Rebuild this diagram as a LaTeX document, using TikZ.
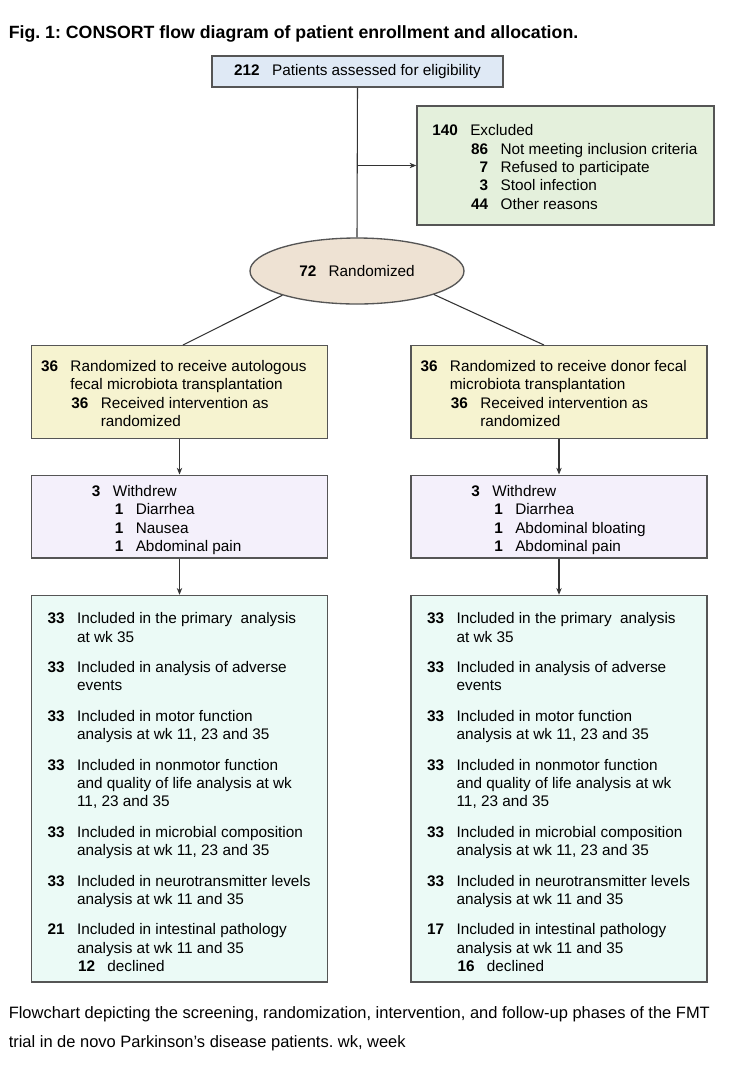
\documentclass[tikz,border=0pt]{standalone}
\usepackage{fontspec}
\setmainfont{Liberation Sans}
\usetikzlibrary{shapes.geometric}
\usetikzlibrary{arrows.meta}
\usetikzlibrary{calc}
\frenchspacing

\definecolor{edgegray}{HTML}{555555}
\definecolor{linkgray}{HTML}{333333}
\definecolor{screenfill}{HTML}{DFE9F5}
\definecolor{exclfill}{HTML}{E4F0DC}
\definecolor{randfill}{HTML}{EEE2D3}
\definecolor{armfill}{HTML}{F6F3D0}
\definecolor{wdfill}{HTML}{F4F0FB}
\definecolor{resfill}{HTML}{EBFAF6}

\newcommand{\diag}{\fontsize{11.5}{13.8}\selectfont}
\newcommand{\nbr}[2][13.5pt]{\makebox[#1][r]{\textbf{#2}}\hspace{9.25pt}}
\newcommand{\indt}[1][22.75pt]{\hspace*{#1}}

\tikzset{
  flowbox/.style={draw=edgegray, line width=1pt, rectangle, inner sep=0pt, minimum width=222pt},
  screenbox/.style={flowbox, fill=screenfill, minimum width=218.25pt, minimum height=23.25pt, font=\diag},
  exclbox/.style={flowbox, fill=exclfill, minimum width=222.75pt, minimum height=89.25pt},
  randnode/.style={ellipse, draw=edgegray, line width=1pt, fill=randfill, inner sep=0pt, minimum width=160.5pt, minimum height=49.5pt, font=\diag},
  armbox/.style={flowbox, fill=armfill, minimum height=69.5pt},
  wdbox/.style={flowbox, fill=wdfill, minimum height=62pt},
  resbox/.style={flowbox, fill=resfill, minimum height=290pt},
  boxtext/.style={anchor=west, inner sep=0pt, align=left, font=\diag},
  link/.style={draw=linkgray, line width=0.8pt},
  arrow/.style={link, -{Stealth[length=5pt, width=4pt, inset=1.5pt]}},
}

\begin{document}
\begin{tikzpicture}[x=0.75pt, y=-0.75pt]
    \fill[white] (0,0) rectangle (741,1065);
    \useasboundingbox (0,0) rectangle (741,1065);

    % Title
    \node[anchor=base west, inner sep=0pt, font=\fontsize{13.3}{16}\selectfont\bfseries] (title) at (8.5,38) {Fig. 1: CONSORT flow diagram of patient enrollment and allocation.};

    % Screening and exclusion
    \node[screenbox] (screen) at (357.5,71.6) {\textbf{212}\hspace{9.25pt}Patients assessed for eligibility};
    \node[exclbox] (excl) at (565.5,165.5) {};
    \node[boxtext] (exclT) at ([xshift=11pt, yshift=-1.1pt]excl.west) {\nbr[20pt]{140}Excluded\\
        \indt[29.25pt]\nbr{86}Not meeting inclusion criteria\\
        \indt[29.25pt]\nbr{7}Refused to participate\\
        \indt[29.25pt]\nbr{3}Stool infection\\
        \indt[29.25pt]\nbr{44}Other reasons};

    % Randomization
    \node[randnode] (rand) at (357,271) {\textbf{72}\hspace{9.25pt}Randomized};

    % Allocation
    \node[armbox] (armL) at (179.5,392) {};
    \node[boxtext] (armLT) at ([xshift=6.75pt, yshift=-1.1pt]armL.west) {\nbr{36}Randomized to receive autologous\\
        \indt fecal microbiota transplantation\\
        \indt\nbr{36}Received intervention as\\
        \indt[45.5pt]randomized};
    \node[armbox] (armR) at (559,392) {};
    \node[boxtext] (armRT) at ([xshift=6.75pt, yshift=-1.1pt]armR.west) {\nbr{36}Randomized to receive donor fecal\\
        \indt microbiota transplantation\\
        \indt\nbr{36}Received intervention as\\
        \indt[45.5pt]randomized};

    % Withdrawals
    \node[wdbox] (wdL) at (179.5,516.5) {};
    \node[boxtext] (wdLT) at ([xshift=6.75pt, yshift=-2.6pt]wdL.west) {\indt[31.8pt]\nbr{3}Withdrew\\
        \indt[49pt]\nbr{1}Diarrhea\\
        \indt[49pt]\nbr{1}Nausea\\
        \indt[49pt]\nbr{1}Abdominal pain};
    \node[wdbox] (wdR) at (559,516.5) {};
    \node[boxtext] (wdRT) at ([xshift=6.75pt, yshift=-2.6pt]wdR.west) {\indt[31.8pt]\nbr{3}Withdrew\\
        \indt[49pt]\nbr{1}Diarrhea\\
        \indt[49pt]\nbr{1}Abdominal bloating\\
        \indt[49pt]\nbr{1}Abdominal pain};

    % Analysis
    \node[resbox] (resL) at (179.5,788.75) {};
    \node[boxtext] (resLT) at ([xshift=11.75pt, yshift=-2.6pt]resL.west) {\nbr{33}Included in the primary\ \ analysis\\
        \indt at wk 35\\[9pt]
        \nbr{33}Included in analysis of adverse\\
        \indt events\\[9pt]
        \nbr{33}Included in motor function\\
        \indt analysis at wk 11, 23 and 35\\[9pt]
        \nbr{33}Included in nonmotor function\\
        \indt and quality of life analysis at wk\\
        \indt 11, 23 and 35\\[9pt]
        \nbr{33}Included in microbial composition\\
        \indt analysis at wk 11, 23 and 35\\[9pt]
        \nbr{33}Included in neurotransmitter levels\\
        \indt analysis at wk 11 and 35\\[9pt]
        \nbr{21}Included in intestinal pathology\\
        \indt analysis at wk 11 and 35\\
        \indt\nbr{12}declined};
    \node[resbox] (resR) at (559,788.75) {};
    \node[boxtext] (resRT) at ([xshift=11.75pt, yshift=-2.6pt]resR.west) {\nbr{33}Included in the primary\ \ analysis\\
        \indt at wk 35\\[9pt]
        \nbr{33}Included in analysis of adverse\\
        \indt events\\[9pt]
        \nbr{33}Included in motor function\\
        \indt analysis at wk 11, 23 and 35\\[9pt]
        \nbr{33}Included in nonmotor function\\
        \indt and quality of life analysis at wk\\
        \indt 11, 23 and 35\\[9pt]
        \nbr{33}Included in microbial composition\\
        \indt analysis at wk 11, 23 and 35\\[9pt]
        \nbr{33}Included in neurotransmitter levels\\
        \indt analysis at wk 11 and 35\\[9pt]
        \nbr{17}Included in intestinal pathology\\
        \indt analysis at wk 11 and 35\\
        \indt\nbr{16}declined};

    % Connectors
    \draw[link] (screen.south) -- (rand.north);
    \draw[arrow] (screen.south |- excl.west) -- (excl.west);
    \draw[link] (rand.198) -- ([xshift=2.6pt]armL.north);
    \draw[link] (rand.343) -- ([xshift=-11.25pt]armR.north);
    \draw[arrow] (armL) -- (wdL);
    \draw[arrow] (armR) -- (wdR);
    \draw[arrow] (wdL) -- (resL);
    \draw[arrow] (wdR) -- (resR);

    % Caption
    \node[anchor=base west, inner sep=0pt, font=\fontsize{12.35}{21}\selectfont] (capA) at (8.5,1018.5) {Flowchart depicting the screening, randomization, intervention, and follow-up phases of the FMT};
    \node[anchor=base west, inner sep=0pt, font=\fontsize{12.35}{21}\selectfont] (capB) at (8.5,1047) {trial in de novo Parkinson’s disease patients. wk, week};
\end{tikzpicture}
\end{document}
